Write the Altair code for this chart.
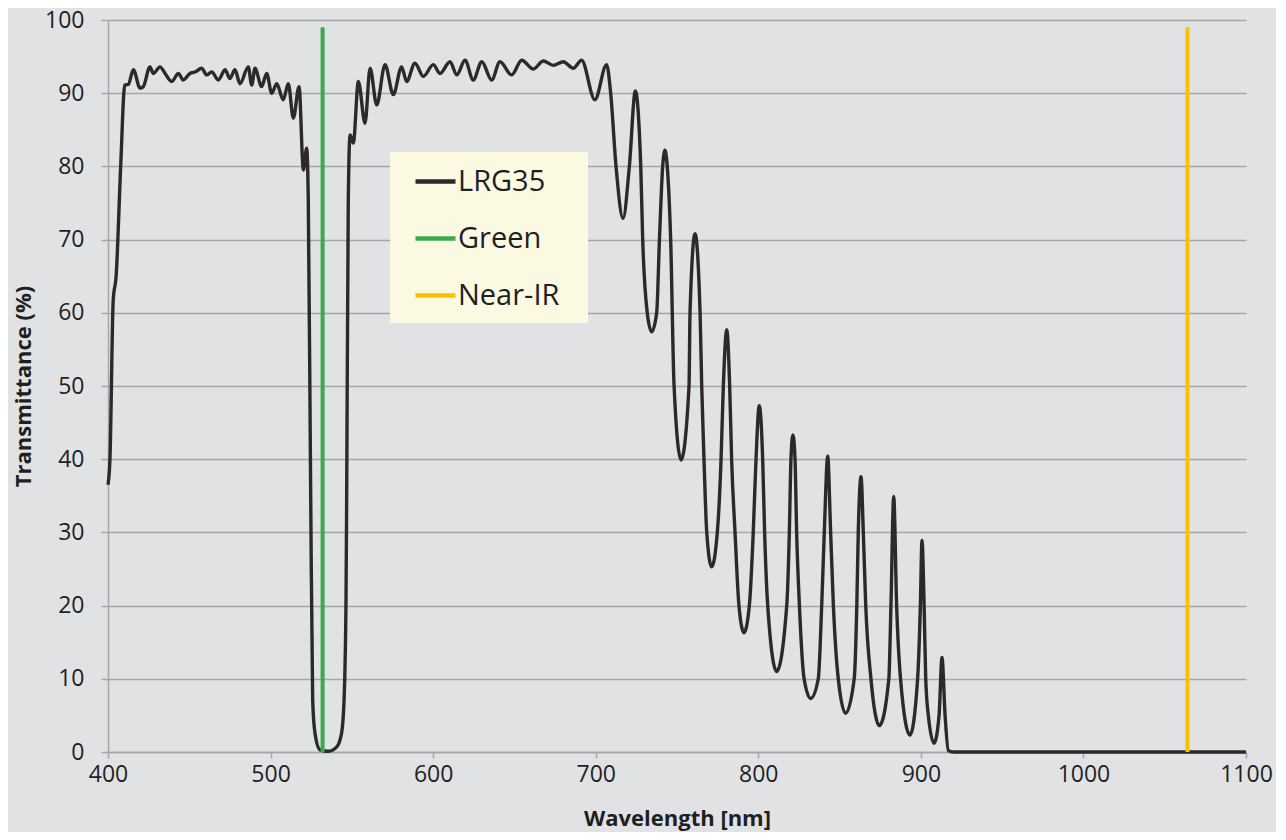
import altair as alt
import pandas as pd

# LRG35 transmittance curve
wavelength_nm = [
    400.0, 401.2, 403.2, 405.0, 407.8, 410.3, 412.5, 415.6, 419.7, 421.7,
    425.8, 427.9, 432.0, 435.1, 439.2, 443.3, 446.3, 450.4, 453.5, 457.6,
    460.7, 463.8, 467.9, 472.0, 475.0, 478.1, 481.2, 486.3, 488.4, 490.4,
    494.5, 497.6, 500.7, 503.8, 507.8, 510.9, 514.0, 517.5, 520.2, 522.2,
    523.2, 524.7, 525.9, 527.3, 530.4, 535.5, 540.7, 543.7, 545.2, 546.4,
    546.8, 547.8, 548.9, 550.9, 554.0, 558.1, 561.2, 565.3, 570.4, 575.5,
    580.6, 583.7, 588.8, 594.0, 600.1, 604.2, 610.4, 614.5, 619.6, 624.7,
    629.9, 636.0, 641.1, 648.3, 654.5, 661.6, 667.8, 673.9, 680.1, 686.2,
    691.3, 699.5, 706.7, 709.2, 712.5, 716.8, 720.7, 724.4, 727.7, 728.9,
    731.7, 734.4, 737.5, 739.2, 741.2, 742.6, 744.0, 746.1, 748.2, 752.5,
    757.4, 758.0, 761.1, 764.2, 765.2, 766.6, 768.3, 771.3, 774.8, 777.1,
    778.5, 780.6, 782.4, 783.6, 785.7, 788.1, 791.2, 794.5, 796.9, 798.6,
    800.6, 802.7, 803.9, 805.8, 811.3, 817.5, 819.1, 820.1, 821.3, 822.6,
    823.6, 825.3, 828.2, 832.2, 836.9, 839.0, 840.6, 842.7, 844.5, 846.2,
    849.2, 853.7, 859.0, 860.6, 861.5, 863.2, 864.6, 866.1, 869.3, 874.5,
    880.3, 881.6, 883.3, 885.1, 887.5, 893.3, 898.0, 899.7, 900.7, 902.0,
    903.0, 904.6, 908.1, 911.2, 913.0, 914.9, 916.9, 920.0, 1100.0,
]
transmittance_pct = [
    36.5, 40.0, 61.7, 65.0, 80.0, 91.1, 91.2, 93.2, 90.7, 90.9,
    93.6, 92.7, 93.6, 92.7, 91.6, 92.7, 91.8, 92.7, 92.9, 93.4,
    92.5, 92.9, 91.8, 93.2, 92.0, 93.2, 91.3, 93.6, 91.1, 93.4,
    90.9, 92.7, 90.0, 91.3, 89.1, 91.3, 86.6, 90.9, 79.5, 82.5,
    75.4, 34.4, 7.1, 2.6, 0.3, 0.1, 0.7, 2.6, 7.1, 20.7,
    34.4, 75.4, 84.3, 83.2, 91.6, 85.9, 93.4, 88.4, 93.9, 89.8,
    93.6, 91.6, 94.1, 92.3, 93.9, 92.7, 94.3, 92.5, 94.5, 91.8,
    94.3, 91.8, 94.3, 92.5, 94.5, 93.3, 94.4, 93.8, 94.3, 93.4,
    94.5, 89.1, 93.9, 90.0, 80.0, 72.9, 80.0, 90.3, 80.0, 70.0,
    60.0, 57.4, 60.0, 70.0, 80.0, 82.2, 80.0, 70.0, 50.0, 39.9,
    50.0, 60.0, 70.8, 60.0, 50.0, 40.0, 30.0, 25.3, 30.0, 40.0,
    50.0, 57.7, 50.0, 40.0, 30.0, 20.0, 16.3, 20.0, 30.0, 40.0,
    47.3, 40.0, 30.0, 20.0, 11.0, 20.0, 30.0, 40.0, 43.3, 40.0,
    30.0, 20.0, 10.0, 7.3, 10.0, 20.0, 30.0, 40.4, 30.0, 20.0,
    10.0, 5.3, 10.0, 20.0, 30.0, 37.6, 30.0, 20.0, 10.0, 3.6,
    10.0, 20.0, 34.9, 20.0, 10.0, 2.3, 10.0, 20.0, 28.9, 20.0,
    10.0, 5.0, 1.2, 5.0, 12.9, 5.0, 0.2, 0.0, 0.0,
]

laser_names = ["Green", "Near-IR"]
laser_nm = [532, 1064]
laser_top_pct = [99, 99]
laser_bottom_pct = [0, 0]

series_names = ["LRG35", "Green", "Near-IR"]
series_colors = ["#2c292a", "#3aa94f", "#f7c300"]

x_ticks = [400, 500, 600, 700, 800, 900, 1000, 1100]
y_ticks = [0, 10, 20, 30, 40, 50, 60, 70, 80, 90, 100]

FONT = "Open Sans"
BG = "#e1e2e4"
GRID = "#a6a6a6"
TXT = "#1f1f1f"
LEGEND_BG = "#fbf9e2"

curve = pd.DataFrame({"Wavelength": wavelength_nm, "T": transmittance_pct, "series": "LRG35"})
lasers = pd.DataFrame({"Wavelength": laser_nm, "T": laser_top_pct, "T0": laser_bottom_pct, "series": laser_names})

color = alt.Color(
    "series:N",
    scale=alt.Scale(domain=series_names, range=series_colors),
    legend=alt.Legend(
        title=None, orient="none", legendX=305, legendY=139,
        padding=0, symbolType="stroke",
        symbolStrokeWidth=4.5, symbolSize=1600, labelFontSize=29,
        labelFont=FONT, labelColor=TXT, labelOffset=0, rowPadding=19,
        labelLimit=300,
    ),
)

x_enc = alt.X(
    "Wavelength:Q",
    scale=alt.Scale(domain=[400, 1100], nice=False, zero=False),
    axis=alt.Axis(values=x_ticks, format="d", title="Wavelength [nm]", grid=False,
                  labelFlush=False, labelFontSize=23, titleFontSize=22,
                  titleFontWeight="bold", labelFont=FONT, titleFont=FONT,
                  labelColor=TXT, titleColor=TXT, domainColor=GRID, tickColor=GRID,
                  tickSize=6, labelPadding=5, titlePadding=22, domainWidth=1.5,
                  tickWidth=1.5),
)
y_axis = alt.Axis(values=y_ticks, format="d", title="Transmittance (%)", grid=True,
                  labelFlush=False, gridColor=GRID, gridWidth=1.5, labelFontSize=23,
                  titleFontSize=22, titleFontWeight="bold", labelFont=FONT,
                  titleFont=FONT, labelColor=TXT, titleColor=TXT, domainColor=GRID,
                  tickColor=GRID, tickSize=7, labelPadding=17, titlePadding=9,
                  domainWidth=1.5, tickWidth=1.5)
y_scale = alt.Scale(domain=[0, 100], nice=False)

legend_box = alt.Chart(pd.DataFrame({"k": [0]})).mark_rect(color=LEGEND_BG).encode(
    x=alt.value(282), x2=alt.value(480), y=alt.value(132), y2=alt.value(303)
)

line = alt.Chart(curve).mark_line(interpolate="monotone", strokeWidth=3.4).encode(
    x=x_enc,
    y=alt.Y("T:Q", scale=y_scale, axis=y_axis),
    color=color,
)
rules = alt.Chart(lasers).mark_rule(strokeWidth=4).encode(
    x=alt.X("Wavelength:Q"),
    y=alt.Y("T:Q"),
    y2=alt.Y2("T0:Q"),
    color=color,
)

chart = alt.layer(line, legend_box, rules).properties(
    width=1138, height=732, background=BG,
    padding={"left": 100, "top": 12, "right": 30, "bottom": 80},
    autosize=alt.AutoSizeParams(type="none"),
).configure_view(stroke=None, fill=BG)

chart.save("out.html", embed_options={"renderer": "svg", "actions": False})
